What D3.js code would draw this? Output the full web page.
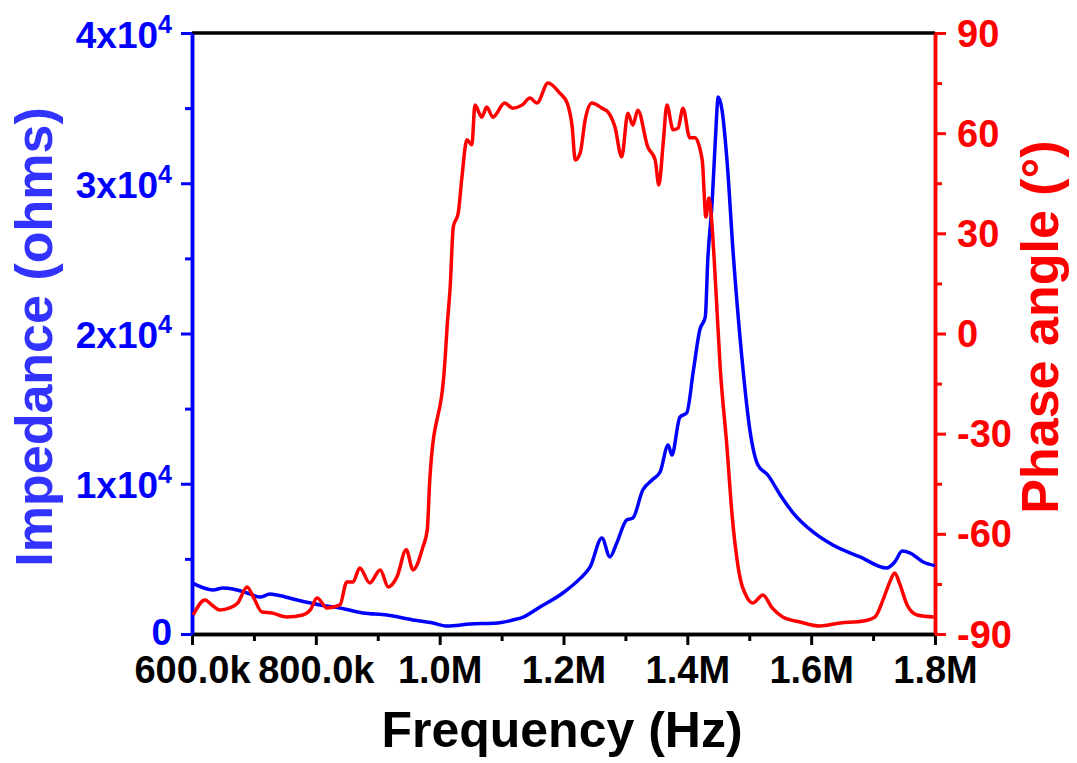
<!DOCTYPE html>
<html>
<head>
<meta charset="utf-8">
<script src="https://cdn.jsdelivr.net/npm/d3@7"></script>
<style>
  body { margin: 0; background: #fff; }
  svg text { font-family: "Liberation Sans", Arial, sans-serif; font-weight: bold; }
</style>
</head>
<body>
<div id="chart"></div>
<script>
// Impedance trace (frequency in kHz, impedance in ohms)
var freqZ = [600, 634, 650, 666, 689, 710, 726, 737, 770, 807, 839, 876, 915, 957, 989, 1012,
    1049, 1093, 1118, 1135, 1162, 1199, 1227, 1243, 1262, 1275, 1286, 1302, 1312, 1328, 1343,
    1356, 1369, 1375, 1388, 1399, 1410, 1420, 1429, 1433, 1440, 1445, 1450, 1456, 1464, 1474,
    1488, 1501, 1514, 1530, 1550, 1571, 1603, 1635, 1679, 1722, 1735, 1747, 1760, 1781, 1800];
var impedance = [3400, 2930, 3060, 3000, 2730, 2460, 2660, 2600, 2260, 1930, 1730, 1400, 1260,
    930, 730, 530, 660, 730, 930, 1130, 1800, 2730, 3700, 4460, 6390, 5130, 6060, 7590, 7720,
    9580, 10250, 10780, 12580, 11910, 14440, 14710, 17600, 20230, 21100, 24890, 28690, 32680,
    35740, 34880, 31550, 25360, 18440, 13580, 11250, 10580, 9250, 8050, 6790, 5920, 5130,
    4390, 4790, 5520, 5390, 4790, 4550];

// Phase trace (frequency in kHz, phase in degrees)
var freqP = [602, 621, 632, 645, 661, 674, 689, 699, 713, 729, 753, 779, 791, 802, 818, 839,
    850, 860, 871, 887, 904, 917, 931, 946, 957, 973, 980, 984, 1009, 1012, 1017, 1022, 1030,
    1036, 1044, 1052, 1057, 1068, 1076, 1086, 1105, 1118, 1133, 1146, 1157, 1175, 1194, 1206,
    1214, 1219, 1227, 1235, 1246, 1262, 1272, 1283, 1294, 1304, 1312, 1320, 1336, 1348, 1354,
    1361, 1367, 1377, 1385, 1393, 1404, 1412, 1424, 1430, 1435, 1440, 1445, 1453, 1464, 1472,
    1482, 1496, 1506, 1522, 1537, 1554, 1582, 1614, 1647, 1684, 1703, 1716, 1727, 1735, 1743,
    1755, 1771, 1798];
var phase = [-84.3, -79.8, -81.3, -82.8, -82.2, -80.7, -75.9, -78.9, -83.4, -83.7, -84.9, -84.3,
    -82.8, -79.2, -82.2, -81.3, -74.4, -74.4, -70.2, -74.7, -70.8, -75.9, -72.9, -64.8, -70.8,
    -63.9, -58.8, -43.9, -7.0, 2.0, 14.0, 31.9, 36.1, 46.9, 58.0, 56.5, 68.4, 64.8, 67.8, 64.8,
    69.0, 67.5, 68.4, 70.5, 69.0, 75.0, 72.0, 69.0, 61.9, 52.0, 54.1, 64.0, 69.0, 67.5, 66.3,
    61.9, 52.9, 66.0, 62.4, 66.9, 55.9, 52.0, 44.5, 57.0, 68.4, 61.0, 61.5, 67.5, 58.6, 58.6,
    52.0, 34.9, 40.6, 31.9, 16.9, -10.0, -34.0, -53.8, -69.9, -78.9, -80.7, -78.3, -82.2, -84.9,
    -86.4, -87.6, -86.7, -86.1, -84.9, -79.8, -74.4, -71.7, -75.0, -81.3, -84.3, -84.9];

// Tick values
var xTicks = [600, 800, 1000, 1200, 1400, 1600, 1800];
var xTickLabels = ["600.0k", "800.0k", "1.0M", "1.2M", "1.4M", "1.6M", "1.8M"];
var zTicks = [0, 10000, 20000, 30000, 40000];
var pTicks = [-90, -60, -30, 0, 30, 60, 90];

var blue = "#0000ff", red = "#ff0000";
var width = 1077, height = 763;
var margin = {top: 33, right: 142, bottom: 129, left: 192};
var w = width - margin.left - margin.right,
    h = height - margin.top - margin.bottom;

var svg = d3.select("#chart").append("svg")
    .attr("width", width)
    .attr("height", height);

var g = svg.append("g")
    .attr("transform", "translate(" + margin.left + "," + margin.top + ")");

// Scales
var x = d3.scaleLinear().domain([600, 1800]).range([0, w]);
var yZ = d3.scaleLinear().domain([0, 40000]).range([h, 0]);
var yP = d3.scaleLinear().domain([-90, 90]).range([h, 0]);

function styleAxis(sel, color) {
    sel.attr("font-size", null).attr("font-family", null);
    sel.select(".domain").attr("stroke", color).attr("stroke-width", 3.5);
    sel.selectAll(".tick line").attr("stroke", color).attr("stroke-width", 3);
    sel.selectAll(".tick text").attr("fill", color);
}

// Minor ticks
function minor(axis, vals) {
    return axis.tickValues(vals).tickSize(7).tickSizeOuter(0).tickFormat("");
}

g.append("g").attr("transform", "translate(0," + h + ")")
    .call(minor(d3.axisBottom(x), d3.range(700, 1800, 200)))
    .call(styleAxis, "#000");
g.append("g")
    .call(minor(d3.axisLeft(yZ), d3.range(5000, 40000, 10000)))
    .call(styleAxis, blue);
g.append("g").attr("transform", "translate(" + w + ",0)")
    .call(minor(d3.axisRight(yP), d3.range(-75, 90, 30)))
    .call(styleAxis, red);

// Top border
g.append("line")
    .attr("x1", x(600)).attr("x2", x(1800))
    .attr("y1", 0).attr("y2", 0)
    .attr("stroke", "#000").attr("stroke-width", 3.5);

// Bottom axis
var xAxis = g.append("g")
    .attr("transform", "translate(0," + h + ")")
    .call(d3.axisBottom(x).tickValues(xTicks).tickSize(11).tickSizeOuter(0)
        .tickFormat(function(d, i) { return xTickLabels[i]; }))
    .call(styleAxis, "#000");
xAxis.selectAll("text")
    .attr("y", 49).attr("dy", 0)
    .style("font-size", "38px");

// Left axis
var zAxis = g.append("g")
    .call(d3.axisLeft(yZ).tickValues(zTicks).tickSize(11).tickSizeOuter(0).tickFormat(""))
    .call(styleAxis, blue);
zAxis.selectAll(".tick").append("text")
    .attr("x", -20)
    .attr("y", function(d) { return d === 0 ? 10 : 14; })
    .attr("text-anchor", "end")
    .attr("fill", blue)
    .style("font-size", "37px")
    .each(function(d) {
        var t = d3.select(this);
        if (d === 0) { t.text("0"); return; }
        t.append("tspan").text((d / 10000) + "x10");
        t.append("tspan").attr("dy", -15).style("font-size", "25px").text("4");
    });

// Right axis
var pAxis = g.append("g")
    .attr("transform", "translate(" + w + ",0)")
    .call(d3.axisRight(yP).tickValues(pTicks).tickSize(11).tickSizeOuter(0)
        .tickFormat(function(d) { return String(d); }))
    .call(styleAxis, red);
pAxis.selectAll("text")
    .attr("x", 22).attr("y", 13).attr("dy", 0)
    .style("font-size", "38px");

// Curves
var lineZ = d3.line()
    .x(function(d, i) { return x(freqZ[i]); })
    .y(function(d) { return yZ(d); })
    .curve(d3.curveMonotoneX);
var lineP = d3.line()
    .x(function(d, i) { return x(freqP[i]); })
    .y(function(d) { return yP(d); })
    .curve(d3.curveMonotoneX);

g.append("path")
    .datum(impedance)
    .attr("d", lineZ)
    .attr("fill", "none")
    .attr("stroke", blue)
    .attr("stroke-width", 3.5)
    .attr("stroke-linejoin", "round");

g.append("path")
    .datum(phase)
    .attr("d", lineP)
    .attr("fill", "none")
    .attr("stroke", red)
    .attr("stroke-width", 3.5)
    .attr("stroke-linejoin", "round");

// Axis titles
svg.append("text")
    .attr("x", 562).attr("y", 747)
    .attr("text-anchor", "middle")
    .style("font-size", "50px")
    .attr("fill", "#000")
    .text("Frequency (Hz)");

svg.append("text")
    .attr("transform", "translate(52,337) rotate(-90)")
    .attr("text-anchor", "middle")
    .style("font-size", "52px")
    .attr("fill", "#3333ff")
    .text("Impedance (ohms)");

svg.append("text")
    .attr("transform", "translate(1058,327) rotate(-90)")
    .attr("text-anchor", "middle")
    .style("font-size", "52px")
    .attr("fill", red)
    .text("Phase angle (°)");
</script>
</body>
</html>
